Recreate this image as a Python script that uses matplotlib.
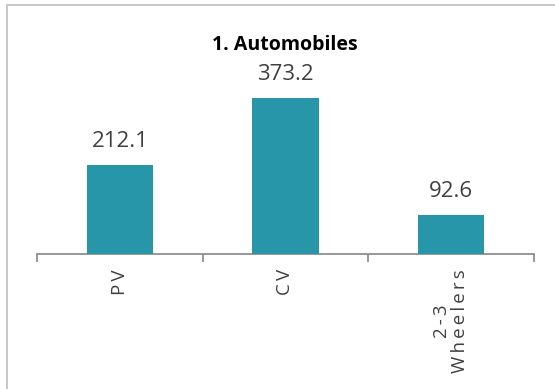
import matplotlib
matplotlib.use("Agg")
import matplotlib.pyplot as plt
from matplotlib.patches import Rectangle

categories = ["PV", "CV", "2-3 Wheelers"]
tick_labels = ["P\u2009V", "C\u2009V", "2\u2009-\u20093\nW\u2009h\u2009e\u2009e\u2009l\u2009e\u2009r\u2009s"]
values = [212.1, 373.2, 92.6]
title = "1. Automobiles"

W, H = 555, 389
fig = plt.figure(figsize=(W / 100, H / 100), dpi=100)
fig.patch.set_facecolor("white")

# chart-area frame (extends past the right/bottom edges)
fig.patches.append(Rectangle((7 / W, -0.1), 1.2, 1.1 - 5 / H, transform=fig.transFigure,
                             fill=False, edgecolor="#bfbfbf", linewidth=1.2))

ax_left, ax_right = 37, 534
ax_bottom, ax_top = 254, 87
ax = fig.add_axes([ax_left / W, 1 - ax_bottom / H, (ax_right - ax_left) / W, (ax_bottom - ax_top) / H])
ax.set_facecolor("none")

x = list(range(len(categories)))
bars = ax.bar(x, values, width=0.4, color="#2896a9", zorder=3)
ax.set_xlim(-0.5, len(categories) - 0.5)
ax.set_ylim(0, 400)

for xi, v in zip(x, values):
    ax.annotate(f"{v:.1f}", (xi, v), xytext=(0, 13), textcoords="offset points",
                ha="center", va="baseline", fontsize=16, color="#404040", family="Open Sans")

for s in ["left", "right", "top"]:
    ax.spines[s].set_visible(False)
ax.spines["bottom"].set_color("#868686")
ax.spines["bottom"].set_linewidth(1.2)
ax.set_yticks([])
ax.set_xticks([-0.5, 0.5, 1.5, 2.5], minor=False)
ax.set_xticklabels([])
ax.tick_params(axis="x", which="major", length=6, color="#868686", width=1.2, direction="out")
ax.set_xticks(x, minor=True)
ax.set_xticklabels(tick_labels, minor=True, rotation=90, fontsize=13.5, color="#404040",
                   family=["Open Sans", "DejaVu Sans"], va="top", ha="center",
                   multialignment="center", linespacing=1.0)
ax.tick_params(axis="x", which="minor", length=0, pad=11)

fig.text(285 / W, 1 - 45 / H, title, ha="center", va="center", fontsize=14,
         fontweight="bold", family="Open Sans", color="black")

fig.savefig("out.png", dpi=100)
